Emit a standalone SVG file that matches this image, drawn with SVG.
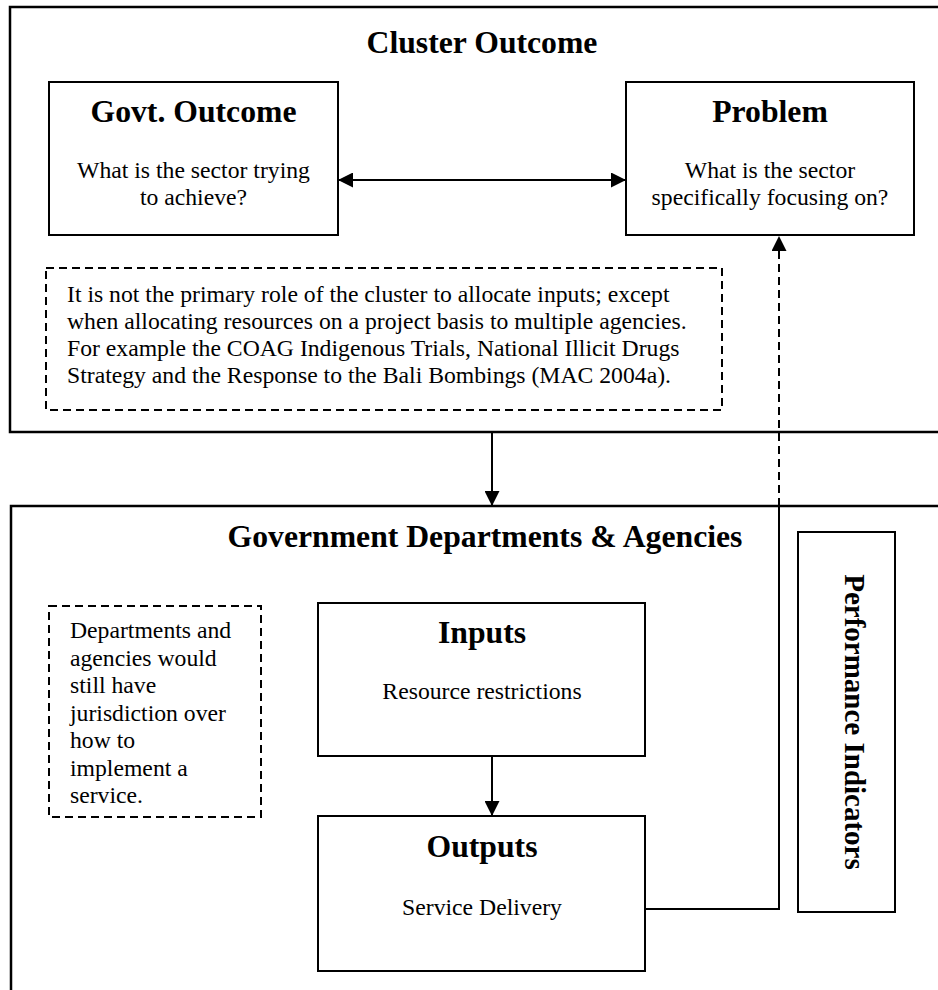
<svg xmlns="http://www.w3.org/2000/svg" width="938" height="990" viewBox="0 0 938 990">
<style>
  .frame { fill: #fff; stroke: #000; stroke-width: 2.5; }
  .box { fill: #fff; stroke: #000; stroke-width: 2; }
  .dbox { fill: #fff; stroke: #000; stroke-width: 2; stroke-dasharray: 8 5; }
  .h { font-family: "Liberation Serif", "Times New Roman", serif; font-weight: bold; font-size: 31.7px; fill: #000; }
  .t { font-family: "Liberation Serif", "Times New Roman", serif; font-size: 23.7px; fill: #000; }
  .c { text-anchor: middle; }
  .line { fill: none; stroke: #000; stroke-width: 2; }
  .dash { fill: none; stroke: #000; stroke-width: 2; stroke-dasharray: 8 5; }
</style>
<defs>
  <marker id="arr" viewBox="0 0 15 15" refX="15" refY="7.5" markerWidth="15" markerHeight="15" markerUnits="userSpaceOnUse" orient="auto-start-reverse">
    <path d="M0,0 L15,7.5 L0,15 Z" fill="#000"/>
  </marker>
</defs>
<rect width="938" height="990" fill="#fff"/>

<g id="cluster">
  <rect class="frame" x="10" y="7" width="940" height="425"/>
  <text class="h c" x="482" y="53">Cluster Outcome</text>
</g>

<g id="govt-outcome">
  <rect class="box" x="49" y="82" width="289" height="153"/>
  <text class="h c" x="193.5" y="122">Govt. Outcome</text>
  <text class="t c" x="193.5" y="178">What is the sector trying</text>
  <text class="t c" x="193.5" y="205">to achieve?</text>
</g>

<g id="problem">
  <rect class="box" x="626" y="82" width="288" height="153"/>
  <text class="h c" x="770" y="122">Problem</text>
  <text class="t c" x="770" y="178">What is the sector</text>
  <text class="t c" x="770" y="205">specifically focusing on?</text>
</g>

<g id="cluster-note">
  <rect class="dbox" x="46" y="268" width="676" height="142"/>
  <text class="t" x="67" y="302">It is not the primary role of the cluster to allocate inputs; except</text>
  <text class="t" x="67" y="329">when allocating resources on a project basis to multiple agencies.</text>
  <text class="t" x="67" y="356">For example the COAG Indigenous Trials, National Illicit Drugs</text>
  <text class="t" x="67" y="383">Strategy and the Response to the Bali Bombings (MAC 2004a).</text>
</g>

<g id="departments">
  <rect class="frame" x="11" y="506" width="940" height="500"/>
  <text class="h c" x="485" y="547">Government Departments &amp; Agencies</text>
</g>

<g id="departments-note">
  <rect class="dbox" x="49" y="606" width="212" height="211"/>
  <text class="t" x="70" y="638">Departments and</text>
  <text class="t" x="70" y="666">agencies would</text>
  <text class="t" x="70" y="693">still have</text>
  <text class="t" x="70" y="721">jurisdiction over</text>
  <text class="t" x="70" y="748">how to</text>
  <text class="t" x="70" y="776">implement a</text>
  <text class="t" x="70" y="803">service.</text>
</g>

<g id="inputs">
  <rect class="box" x="318" y="603" width="327" height="153"/>
  <text class="h c" x="482" y="643">Inputs</text>
  <text class="t c" x="482" y="699">Resource restrictions</text>
</g>

<g id="outputs">
  <rect class="box" x="318" y="816" width="327" height="155"/>
  <text class="h c" x="482" y="857">Outputs</text>
  <text class="t c" x="482" y="915">Service Delivery</text>
</g>

<g id="performance-indicators">
  <rect class="box" x="798" y="532" width="97" height="380"/>
  <text class="h c" transform="translate(845,722) rotate(90)" x="0" y="0" style="font-size:29px">Performance Indicators</text>
</g>

<g id="connectors">
  <line class="line" x1="338" y1="180" x2="626" y2="180" marker-start="url(#arr)" marker-end="url(#arr)"/>
  <line class="line" x1="492" y1="432" x2="492" y2="506" marker-end="url(#arr)"/>
  <line class="line" x1="492" y1="756" x2="492" y2="816" marker-end="url(#arr)"/>
  <polyline class="line" points="645,909 779,909 779,506"/>
  <line class="dash" x1="779" y1="506" x2="779" y2="236" marker-end="url(#arr)"/>
</g>
</svg>
